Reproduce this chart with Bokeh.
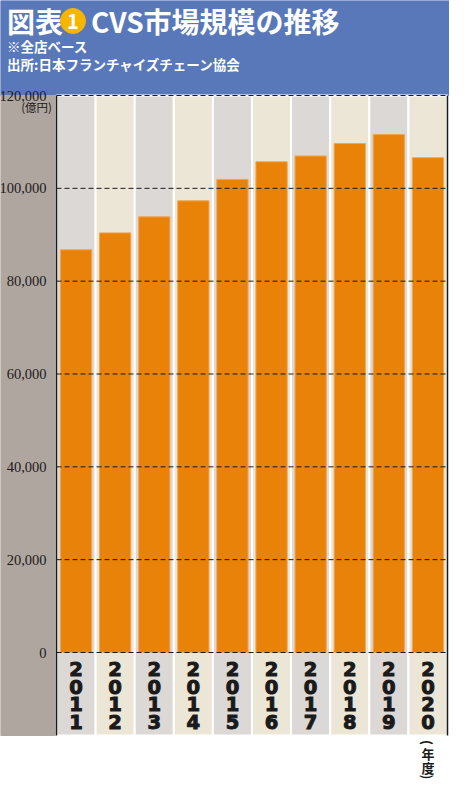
import math

from bokeh.core.properties import value
from bokeh.embed import file_html
from bokeh.models import ColumnDataSource, FixedTicker, NumeralTickFormatter, Range1d
from bokeh.plotting import figure
from bokeh.resources import INLINE

# CVS market size, all stores (100 million yen), JFA
years = ["2011", "2012", "2013", "2014", "2015", "2016", "2017", "2018", "2019", "2020"]
sales = [86769, 90402, 93860, 97309, 101927, 105722, 106975, 109646, 111608, 106609]
y_ticks = [0, 20000, 40000, 60000, 80000, 100000, 120000]

title_a = "図表"
title_no = "1"
title_b = "CVS市場規模の推移"
note = "※全店ベース"
source_note = "出所:日本フランチャイズチェーン協会"
unit = "(億円)"
fiscal = ["(", "年", "度", ")"]

# page geometry in pixels
W, H = 449, 792
COL = 39.1     # width of one year column
LEFT = 56      # left grey panel
TOP = 95       # bottom of the header = 120,000
ZERO = 652     # value 0
BAND = 735     # bottom of the year strip
PX = 120000 / (ZERO - TOP)

x_lo = -0.5 - LEFT / COL
x_hi = x_lo + W / COL
y_hi = 120000 + TOP * PX
y_lo = -(H - ZERO) * PX
band = -(BAND - ZERO) * PX


def at(px, py):
    return [x_lo + px / COL], [y_hi - py * PX]


idx = list(range(len(years)))
src = ColumnDataSource(dict(
    x=idx,
    sales=sales,
    fill=["#dcd8d6" if i % 2 == 0 else "#ece6d6" for i in idx],
))

# one glyph per digit, stacked top to bottom
digits = ColumnDataSource(dict(
    x=[i for i, y in enumerate(years) for _ in y],
    ch=[c for y in years for c in y],
    dy=[(k - 1.5) * 17.6 for y in years for k in range(len(y))],
))

p = figure(width=W, height=H, x_range=Range1d(x_lo, x_hi), y_range=Range1d(y_lo, y_hi),
           x_axis_location=None, toolbar_location=None, output_backend="svg",
           min_border=0, outline_line_color=None,
           background_fill_color="white", border_fill_color="white")
p.xgrid.visible = False
p.ygrid.visible = False

# header and left panel
p.quad(left=x_lo, right=x_hi, bottom=120000, top=y_hi, color="#5878b9")
p.quad(left=x_lo, right=-0.5, bottom=band, top=120000, color="#afa69f")

# column backgrounds and bars
p.vbar(x="x", width=1, bottom=band, top=120000, fill_color="fill",
       line_color="white", line_width=2, source=src)
p.vbar(x="x", width=0.8, bottom=0, top="sales", fill_color="#e88208",
       line_color="#f2a650", line_width=1, source=src)

# dashed value lines over the bars
p.segment(x0=-0.5, x1=len(years) - 0.5, y0=y_ticks, y1=y_ticks,
          line_color="#1a1a1a", line_width=1, line_dash="5 3")
p.segment(x0=[len(years) - 0.5], x1=[len(years) - 0.5], y0=[band], y1=[120000],
          line_color="#1a1a1a", line_width=1.5)

ax = p.yaxis[0]
ax.fixed_location = -0.5
ax.ticker = FixedTicker(ticks=y_ticks)
ax.formatter = NumeralTickFormatter(format="0,0")
ax.bounds = (band, 120000)
ax.axis_line_color = "#1a1a1a"
ax.axis_line_width = 1.5
ax.major_tick_line_color = None
ax.minor_tick_line_color = None
ax.major_label_standoff = 4
ax.major_label_text_font = "Liberation Sans Narrow"
ax.major_label_text_font_size = "14.5px"
ax.major_label_text_color = "#1e1a1b"

# year labels
p.text(x="x", y=-(695 - ZERO) * PX, y_offset="dy", text="ch", source=digits,
       text_font=value("DejaVu Sans"), text_font_style="bold",
       text_font_size="19.5px", text_outline_color="#1a1a1a",
       text_align="center", text_baseline="middle", text_color="#1a1a1a")

ux, uy = at(51.5, 106.5)
p.text(x=ux, y=uy, text=[unit], text_font=value("Noto Sans CJK JP"),
       text_font_size="11.5px", text_align="right", text_baseline="middle",
       text_color="#1e1a1b")

# (年度) under the last column, written vertically
p.text(x=[len(years) - 1] * 4, y=at(0, 759)[1] * 4, text=fiscal,
       y_offset=[-17, -6.5, 7.5, 17.5],
       angle=[-math.pi / 2, 0, 0, -math.pi / 2],
       text_font=value("Noto Sans CJK JP"), text_font_style="bold",
       text_font_size="13px", text_align="center", text_baseline="middle",
       text_color="#1a1a1a")

# header texts
hx, hy = at(6.5, 20.5)
p.text(x=hx, y=hy, text=[title_a], text_font=value("Noto Sans CJK JP"),
       text_font_style="bold", text_font_size="28px",
       text_align="left", text_baseline="middle", text_color="white")
cx, cy = at(72.5, 20.5)
p.scatter(x=cx, y=cy, size=25, marker="circle", color="#f7b500")
p.text(x=cx, y=cy, text=[title_no], text_font=value("Noto Sans CJK JP"),
       text_font_style="bold", text_font_size="20px",
       text_align="center", text_baseline="middle", text_color="white")
bx, by = at(90.5, 20.5)
p.text(x=bx, y=by, text=[title_b], text_font=value("Noto Sans CJK JP"),
       text_font_style="bold", text_font_size="28px",
       text_align="left", text_baseline="middle", text_color="white")
nx, ny = at(6.5, 45)
p.text(x=nx, y=ny, text=[note], text_font=value("Noto Sans CJK JP"),
       text_font_style="bold", text_font_size="13.5px", text_align="left",
       text_baseline="middle", text_color="white")
sx, sy = at(6.5, 63)
p.text(x=sx, y=sy, text=[source_note], text_font=value("Noto Sans CJK JP"),
       text_font_style="bold", text_font_size="13.5px", text_align="left",
       text_baseline="middle", text_color="white")

open("out.html", "w").write(file_html(p, INLINE))
